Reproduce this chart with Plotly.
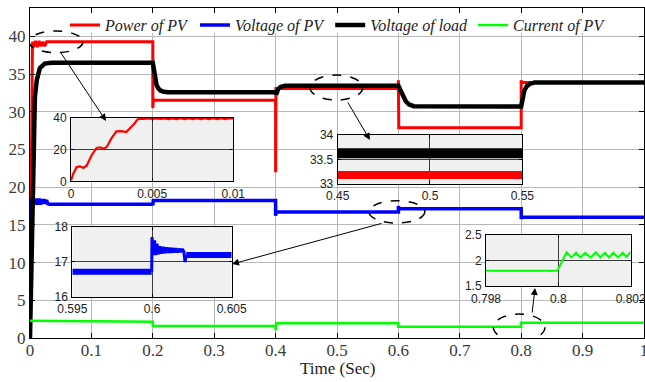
import plotly.graph_objects as go

# ---------------- main series (time in s) ----------------
t_power = [0, 0.0015, 0.004, 0.006, 0.009, 0.012, 0.015, 0.018, 0.021, 0.024, 0.027, 0.031,
           0.2, 0.2, 0.201, 0.202, 0.4, 0.4, 0.4006, 0.6, 0.6, 0.6006, 0.8, 0.8, 0.8006, 1.0]
power_pv = [0, 20, 39.3, 38.6, 39.4, 38.6, 39.4, 38.7, 39.3, 38.7, 39.3, 39.3,
            39.3, 30.5, 31.7, 31.55, 31.55, 22.0, 33.1, 33.1, 34.2, 27.9, 27.9, 34.2, 33.9, 33.9]

t_vpv = [0, 0.001, 0.003, 0.005, 0.007, 0.009, 0.011, 0.013, 0.015, 0.017, 0.019, 0.021,
         0.023, 0.025, 0.027, 0.029, 0.032, 0.2, 0.2, 0.2008, 0.4, 0.4, 0.4008, 0.6, 0.6,
         0.6008, 0.8, 0.8, 0.8008, 1.0]
voltage_pv = [0, 12, 18.5, 17.7, 18.5, 17.7, 18.5, 17.7, 18.5, 17.7, 18.4, 17.8,
              18.4, 17.8, 18.3, 17.8, 17.75, 17.75, 17.6, 18.25, 18.25, 16.2, 16.7, 16.7, 17.5,
              17.15, 17.15, 15.8, 16.0, 16.0]

t_load = [0, 0.002, 0.0035, 0.0054, 0.008, 0.011, 0.016, 0.024, 0.035,
          0.2, 0.201, 0.203, 0.206, 0.209, 0.213, 0.218, 0.225,
          0.4, 0.401, 0.404, 0.408, 0.415,
          0.6, 0.602, 0.605, 0.608, 0.612, 0.617, 0.625,
          0.8, 0.802, 0.805, 0.809, 0.814, 0.822, 1.0]
voltage_load = [0, 8, 20, 28, 32, 34.2, 35.8, 36.4, 36.5,
                36.5, 35.9, 34.6, 33.6, 33.1, 32.8, 32.65, 32.6,
                32.6, 32.3, 33.0, 33.3, 33.45,
                33.45, 33.1, 32.5, 32.0, 31.4, 31.0, 30.75,
                30.7, 31.8, 32.8, 33.4, 33.7, 33.9, 33.9]

t_ipv = [0, 0.2, 0.2, 0.2008, 0.4, 0.4, 0.4012, 0.6, 0.6, 0.8, 0.8, 1.0]
current_pv = [2.3, 2.15, 1.45, 1.6, 1.6, 1.0, 1.95, 1.95, 1.5, 1.5, 2.03, 2.03]

x_ticks = [0, 0.1, 0.2, 0.3, 0.4, 0.5, 0.6, 0.7, 0.8, 0.9, 1.0]
x_labels = ["0", "0.1", "0.2", "0.3", "0.4", "0.5", "0.6", "0.7", "0.8", "0.9", "1"]
y_ticks = [0, 5, 10, 15, 20, 25, 30, 35, 40]

# ---------------- inset 1: power of PV, 0 .. 0.01 s ----------------
t_in1 = [0, 0.00014, 0.00035, 0.00055, 0.00076, 0.00097, 0.00127, 0.00158, 0.00179, 0.002,
         0.0022, 0.0025, 0.0028, 0.0031, 0.0034, 0.0036, 0.0039, 0.0041, 0.0043,
         0.0045, 0.00475, 0.005, 0.00525, 0.0055, 0.00575, 0.006, 0.00625, 0.0065, 0.00675,
         0.007, 0.00725, 0.0075, 0.00775, 0.008, 0.00825, 0.0085, 0.00875, 0.009, 0.00925,
         0.0095, 0.00975, 0.01]
p_in1 = [0.6, 4.8, 9, 9.4, 8.4, 10, 16.4, 21, 21.4, 20.5,
         21.6, 27.2, 31.4, 31.6, 31, 33, 36.2, 38.9, 39.4,
         39.3, 39.6, 39.2, 39.6, 39.2, 39.6, 39.1, 39.6, 39.1, 39.7,
         39.1, 39.7, 39.1, 39.7, 39.1, 39.7, 39.1, 39.7, 39.1, 39.7,
         39.1, 39.7, 39.5]
in1_xticks = [0, 0.005, 0.01]
in1_xlabels = ["0", "0.005", "0.01"]
in1_yticks = [0, 20, 40]

# ---------------- inset 2: load / power around 0.5 s ----------------
t_in2 = [0.45, 0.55]
load_in2 = [33.625, 33.625]
power_in2 = [33.185, 33.185]
in2_xticks = [0.45, 0.5, 0.55]
in2_xlabels = ["0.45", "0.5", "0.55"]
in2_yticks = [33, 33.5, 34]
in2_ylabels = ["33", "33.5", "34"]

# ---------------- inset 3: voltage of PV around 0.6 s ----------------
t_in3_pre = [0.595, 0.59998]
v_in3_pre = [16.72, 16.72]
t_in3_osc = [0.59998, 0.6, 0.60008, 0.60016, 0.60024, 0.60032, 0.6004, 0.6005, 0.6006, 0.6007,
             0.6008, 0.6009, 0.601, 0.6011, 0.6012, 0.6013, 0.6014, 0.6015, 0.6016, 0.6017,
             0.6018, 0.6019, 0.602, 0.60207, 0.60215]
v_in3_osc = [16.72, 17.71, 17.2, 17.62, 17.2, 17.52, 17.22, 17.45, 17.24, 17.43,
             17.25, 17.42, 17.26, 17.41, 17.26, 17.4, 17.27, 17.39, 17.27, 17.38,
             17.28, 17.37, 17.3, 17.0, 17.2]
t_in3_post = [0.60215, 0.605]
v_in3_post = [17.2, 17.2]
in3_xticks = [0.595, 0.6, 0.605]
in3_xlabels = ["0.595", "0.6", "0.605"]
in3_yticks = [16, 17, 18]

# ---------------- inset 4: current of PV around 0.8 s ----------------
t_in4 = [0.798, 0.79997, 0.80008, 0.80017, 0.80023, 0.80036, 0.80049, 0.80061, 0.80074, 0.80089,
         0.80104, 0.80116, 0.80129, 0.8014, 0.80152, 0.80165, 0.80178, 0.80188, 0.80198, 0.802]
i_in4 = [1.8, 1.8, 1.95, 2.08, 2.16, 2.06, 2.15, 2.06, 2.15, 2.06,
         2.16, 2.06, 2.15, 2.06, 2.15, 2.06, 2.15, 2.07, 2.15, 2.14]
in4_xticks = [0.798, 0.8, 0.802]
in4_xlabels = ["0.798", "0.8", "0.802"]
in4_yticks = [1.5, 2, 2.5]
in4_ylabels = ["1.5", "2", "2.5"]

RED, BLUE, BLACK, GREEN = "#ff0000", "#0000ff", "#000000", "#00ff00"

fig = go.Figure()
fig.add_trace(go.Scatter(x=t_power, y=power_pv, mode="lines", name="Power of PV",
                         line=dict(color=RED, width=3)))
fig.add_trace(go.Scatter(x=t_vpv, y=voltage_pv, mode="lines", name="Voltage of PV",
                         line=dict(color=BLUE, width=3.5)))
fig.add_trace(go.Scatter(x=t_load, y=voltage_load, mode="lines", name="Voltage of load",
                         line=dict(color=BLACK, width=4.5)))
fig.add_trace(go.Scatter(x=t_ipv, y=current_pv, mode="lines", name="Current of PV",
                         line=dict(color=GREEN, width=2.5)))

# insets
fig.add_trace(go.Scatter(x=t_in1, y=p_in1, mode="lines", showlegend=False,
                         line=dict(color=RED, width=2.2), xaxis="x2", yaxis="y2"))
fig.add_trace(go.Scatter(x=t_in2, y=load_in2, mode="lines", showlegend=False,
                         line=dict(color=BLACK, width=10), xaxis="x3", yaxis="y3"))
fig.add_trace(go.Scatter(x=t_in2, y=power_in2, mode="lines", showlegend=False,
                         line=dict(color=RED, width=8), xaxis="x3", yaxis="y3"))
fig.add_trace(go.Scatter(x=t_in3_pre, y=v_in3_pre, mode="lines", showlegend=False,
                         line=dict(color=BLUE, width=6), xaxis="x4", yaxis="y4"))
fig.add_trace(go.Scatter(x=t_in3_osc, y=v_in3_osc, mode="lines", showlegend=False,
                         line=dict(color=BLUE, width=3), xaxis="x4", yaxis="y4"))
fig.add_trace(go.Scatter(x=t_in3_post, y=v_in3_post, mode="lines", showlegend=False,
                         line=dict(color=BLUE, width=6), xaxis="x4", yaxis="y4"))
fig.add_trace(go.Scatter(x=t_in4, y=i_in4, mode="lines", showlegend=False,
                         line=dict(color=GREEN, width=2), xaxis="x5", yaxis="y5"))

main_tick_font = dict(family="Liberation Serif", size=17, color="#3a3a3a")
inset_font = dict(family="Liberation Sans, Arial", size=12, color="#222222")

def main_axis(**kw):
    d = dict(showline=True, linecolor="black", linewidth=1, mirror="ticks",
             ticks="inside", ticklen=5, tickcolor="black", showgrid=True,
             gridcolor="#b8b8b8", gridwidth=1, zeroline=False, automargin=False,
             tickfont=main_tick_font, fixedrange=True, ticklabeloverflow="allow")
    d.update(kw)
    return d

def inset_axis(**kw):
    d = dict(showline=True, linecolor="black", linewidth=1, mirror="ticks",
             ticks="inside", ticklen=3, tickcolor="black", showgrid=True,
             gridcolor="#3c3c3c", gridwidth=1, zeroline=False, automargin=False,
             tickfont=inset_font, fixedrange=True, ticklabelstandoff=1,
             ticklabeloverflow="allow")
    d.update(kw)
    return d

fig.update_layout(
    template="none",
    width=645, height=382,
    margin=dict(l=30, r=1, t=8, b=44),
    paper_bgcolor="white", plot_bgcolor="white",
    showlegend=True,
    legend=dict(orientation="h", x=0.057, y=0.948, xanchor="left", yanchor="middle",
                bgcolor="rgba(0,0,0,0)", borderwidth=0,
                font=dict(family="Liberation Serif", size=16, style="italic", color="#222222")),
    xaxis=main_axis(range=[0, 1], tickvals=x_ticks, ticktext=x_labels, domain=[0, 1],
                    ticklabelstandoff=-3),
    yaxis=main_axis(range=[0, 43.77], tickvals=y_ticks, domain=[0, 1]),
    xaxis2=inset_axis(range=[0, 0.01], tickvals=in1_xticks, ticktext=in1_xlabels,
                      domain=[0.0668, 0.3311], anchor="y2"),
    yaxis2=inset_axis(range=[0, 40], tickvals=in1_yticks, domain=[0.4748, 0.6676], anchor="x2"),
    xaxis3=inset_axis(range=[0.45, 0.55], tickvals=in2_xticks, ticktext=in2_xlabels,
                      domain=[0.5011, 0.8018], anchor="y3"),
    yaxis3=inset_axis(range=[33, 34], tickvals=in2_yticks, ticktext=in2_ylabels,
                      domain=[0.4667, 0.6152], anchor="x3"),
    xaxis4=inset_axis(range=[0.595, 0.605], tickvals=in3_xticks, ticktext=in3_xlabels,
                      domain=[0.0689, 0.3285], anchor="y4"),
    yaxis4=inset_axis(range=[16, 18], tickvals=in3_yticks, domain=[0.1242, 0.3364], anchor="x4"),
    xaxis5=inset_axis(range=[0.798, 0.802], tickvals=in4_xticks, ticktext=in4_xlabels,
                      domain=[0.7427, 0.9783], anchor="y5"),
    yaxis5=inset_axis(range=[1.5, 2.5], tickvals=in4_yticks, ticktext=in4_ylabels,
                      domain=[0.1567, 0.313], anchor="x5"),
)

shapes = []
# white band behind the legend (covers grid, below traces)
shapes.append(dict(type="rect", xref="x", yref="y", x0=0, x1=1, y0=40.45, y1=44,
                   fillcolor="white", line=dict(width=0), layer="between"))
# gray inset backgrounds
for xr, yr, xa, ya in [("x2", "y2", [0, 0.01], [0, 40]),
                       ("x3", "y3", [0.45, 0.55], [33, 34]),
                       ("x4", "y4", [0.595, 0.605], [16, 18]),
                       ("x5", "y5", [0.798, 0.802], [1.5, 2.5])]:
    shapes.append(dict(type="rect", xref=xr, yref=yr, x0=xa[0], x1=xa[1], y0=ya[0], y1=ya[1],
                       fillcolor="#f0f0f0", line=dict(width=0), layer="below"))
# dashed ellipses marking zoomed regions
for x0, x1, y0, y1 in [(-0.0016, 0.0863, 37.84, 40.72),
                       (0.456, 0.542, 31.56, 34.88),
                       (0.552, 0.643, 15.25, 18.21),
                       (0.7546, 0.8388, -0.36, 3.18)]:
    shapes.append(dict(type="circle", xref="x", yref="y", x0=x0, x1=x1, y0=y0, y1=y1,
                       line=dict(color="black", width=1.5, dash="dash"), layer="above"))
fig.update_layout(shapes=shapes)

annotations = []
for (tx, ty), (hx, hy) in [((0.0489, 38.0), (0.1238, 28.78)),
                           ((0.5163, 31.43), (0.5537, 26.26)),
                           ((0.5749, 15.25), (0.329, 9.81)),
                           ((0.8176, 3.18), (0.8225, 6.63))]:
    annotations.append(dict(x=hx, y=hy, xref="x", yref="y", ax=tx, ay=ty, axref="x", ayref="y",
                            text="", showarrow=True, arrowhead=2, arrowsize=1.4,
                            arrowwidth=1, arrowcolor="black"))
annotations.append(dict(text="Time (Sec)", x=0.5, y=-0.0925, xref="paper", yref="paper",
                        xanchor="center", yanchor="middle", showarrow=False,
                        font=dict(family="Liberation Serif", size=17, color="#222222")))
fig.update_layout(annotations=annotations)

fig.write_html("out.html")
